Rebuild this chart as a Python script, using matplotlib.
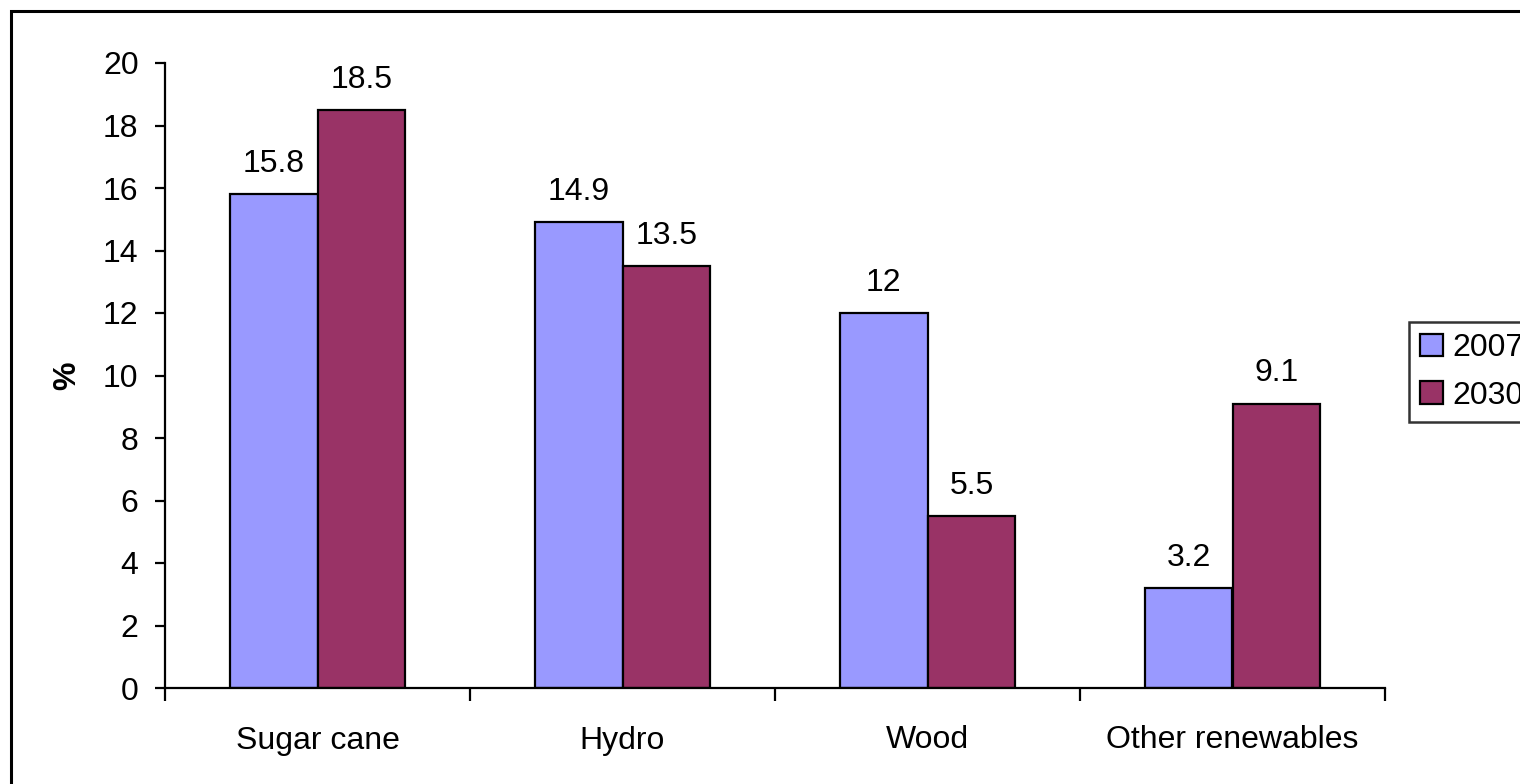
import matplotlib
matplotlib.use("Agg")
import matplotlib.pyplot as plt
import numpy as np
from matplotlib.patches import Rectangle

categories = ["Sugar cane", "Hydro", "Wood", "Other renewables"]
series_names = ["2007", "2030"]
share_2007 = [15.8, 14.9, 12, 3.2]
share_2030 = [18.5, 13.5, 5.5, 9.1]
yticks = list(range(0, 21, 2))

colors = ["#9999FF", "#993366"]
FS = 23

plt.rcParams["font.family"] = ["Liberation Sans", "DejaVu Sans"]

W, H = 1520, 784
fig = plt.figure(figsize=(W / 100, H / 100), dpi=100)

# outer chart frame, running past the right and bottom edges
fig.patches.append(Rectangle((11 / W, -0.1), 1.2, 1 - 11 / H + 0.1,
                             transform=fig.transFigure, fill=False,
                             edgecolor="black", linewidth=2.2))

ax = fig.add_axes([165 / W, 1 - 688 / H, (1385 - 165) / W, (688 - 63) / H])

x = np.arange(len(categories))
bw = 0.288
for i, (vals, name) in enumerate(zip([share_2007, share_2030], series_names)):
    pos = x + (i - 0.5) * bw
    bars = ax.bar(pos, vals, width=bw, color=colors[i], edgecolor="black",
                  linewidth=1.6, label=name)
    for b, v in zip(bars, vals):
        ax.annotate(f"{v:g}", (b.get_x() + b.get_width() / 2, v),
                    xytext=(0, 11), textcoords="offset points",
                    ha="center", va="bottom", fontsize=FS)

ax.set_xlim(-0.5, len(categories) - 0.5)
ax.set_ylim(0, 20)
ax.set_yticks(yticks)
ax.tick_params(axis="y", direction="out", length=7, width=1.6, labelsize=FS, pad=12)

# category labels centred, tick marks on category boundaries
ax.set_xticks(x)
ax.set_xticklabels(categories)
ax.tick_params(axis="x", which="major", length=0, labelsize=FS, pad=27)
ax.set_xticks(np.arange(-0.5, len(categories)), minor=True)
ax.tick_params(axis="x", which="minor", direction="out", length=9, width=1.6)

for s in ["top", "right"]:
    ax.spines[s].set_visible(False)
for s in ["left", "bottom"]:
    ax.spines[s].set_linewidth(1.6)

ax.set_ylabel("%", fontsize=FS, fontweight="bold", labelpad=15)

# legend sits at the right edge and runs past it
leg = fig.legend(loc="upper left", bbox_to_anchor=(1409 / W, 1 - 322 / H),
                 frameon=True, fancybox=False, edgecolor="black",
                 fontsize=FS, handlelength=0.7, handleheight=0.7,
                 handletextpad=0.3, borderpad=0.35, labelspacing=0.55,
                 borderaxespad=0)
leg.get_frame().set_linewidth(1.8)

fig.savefig("out.png", dpi=100)
